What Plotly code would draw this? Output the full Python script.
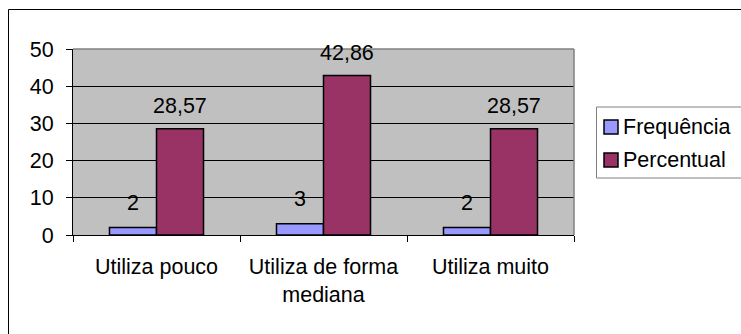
import plotly.graph_objects as go

categories = ["Utiliza pouco", "Utiliza de forma<br>mediana", "Utiliza muito"]
frequencia = [2, 3, 2]
percentual = [28.57, 42.86, 28.57]
series_names = ["Frequência", "Percentual"]
y_ticks = [0, 10, 20, 30, 40, 50]

W, H = 741, 334
L, R, T, B = 73, 167, 49, 99
PW, PH = W - L - R, H - T - B
FONT = "Liberation Sans, Arial, sans-serif"
FS = 21.5
COL_F = "#9999FF"
COL_P = "#993366"


def px_x(px):
    return (px - L) / PW


def px_y(py):
    return (H - B - py) / PH


def fmt(v):
    s = f"{v:.2f}".rstrip("0").rstrip(".")
    return s.replace(".", ",")


fig = go.Figure()
fig.add_trace(go.Bar(x=categories, y=frequencia, name=series_names[0],
                     marker=dict(color=COL_F, line=dict(color="black", width=1.5)),
                     showlegend=False))
fig.add_trace(go.Bar(x=categories, y=percentual, name=series_names[1],
                     marker=dict(color=COL_P, line=dict(color="black", width=1.5)),
                     showlegend=False))

annotations = []
for c, v in zip(categories, frequencia):
    annotations.append(dict(x=c, y=v, xref="x", yref="y", text=fmt(v), showarrow=False,
                            xshift=-23.5, yshift=11, yanchor="bottom",
                            font=dict(family=FONT, size=FS, color="black")))
for c, v in zip(categories, percentual):
    annotations.append(dict(x=c, y=v, xref="x", yref="y", text=fmt(v), showarrow=False,
                            xshift=23.5, yshift=9, yanchor="bottom",
                            font=dict(family=FONT, size=FS, color="black")))

# legend (manual)
leg_items = [(series_names[0], COL_F, 127), (series_names[1], COL_P, 160)]
shapes = [
    # outer chart border
    dict(type="rect", xref="paper", yref="paper", x0=px_x(8.5), x1=px_x(760), y0=px_y(360), y1=px_y(9.5),
         line=dict(color="black", width=1), fillcolor="rgba(0,0,0,0)", layer="below"),
    # plot area top & right border
    dict(type="line", xref="paper", yref="paper", x0=0, x1=1, y0=1, y1=1,
         line=dict(color="#808080", width=1.5), layer="above"),
    dict(type="line", xref="paper", yref="paper", x0=1, x1=1, y0=0, y1=1,
         line=dict(color="#808080", width=1.5), layer="above"),
    # legend box
    dict(type="rect", xref="paper", yref="paper", x0=px_x(596.5), x1=px_x(742), y0=px_y(178), y1=px_y(107),
         line=dict(color="#808080", width=1), fillcolor="white", layer="above"),
]
for name, col, cy in leg_items:
    shapes.append(dict(type="rect", xref="paper", yref="paper", x0=px_x(604), x1=px_x(618),
                       y0=px_y(cy + 7), y1=px_y(cy - 7),
                       line=dict(color="black", width=1.5), fillcolor=col, layer="above"))
    annotations.append(dict(x=px_x(621), y=px_y(cy), xref="paper", yref="paper", text=name,
                            showarrow=False, xanchor="left", yanchor="middle",
                            font=dict(family=FONT, size=FS, color="black")))

fig.update_layout(
    width=W, height=H,
    margin=dict(l=L, r=R, t=T, b=B, pad=0),
    paper_bgcolor="white",
    plot_bgcolor="#C0C0C0",
    barmode="group",
    bargap=0.437,
    bargroupgap=0,
    separators=",.",
    font=dict(family=FONT, size=FS, color="black"),
    shapes=shapes,
    annotations=annotations,
    showlegend=False,
)
fig.update_xaxes(
    showline=True, linecolor="black", linewidth=1,
    ticks="outside", tickson="boundaries", ticklen=6, tickcolor="black", tickwidth=1,
    showgrid=False, tickfont=dict(family=FONT, size=FS, color="black"),
    ticklabelstandoff=12,
)
fig.update_yaxes(
    range=[0, 50], tickvals=y_ticks, showline=True, linecolor="black", linewidth=1,
    ticks="outside", ticklen=6, tickcolor="black", tickwidth=1,
    showgrid=True, gridcolor="black", gridwidth=1, zeroline=False,
    tickfont=dict(family=FONT, size=FS, color="black"),
    ticklabelstandoff=8,
)

fig.write_html("out.html")
